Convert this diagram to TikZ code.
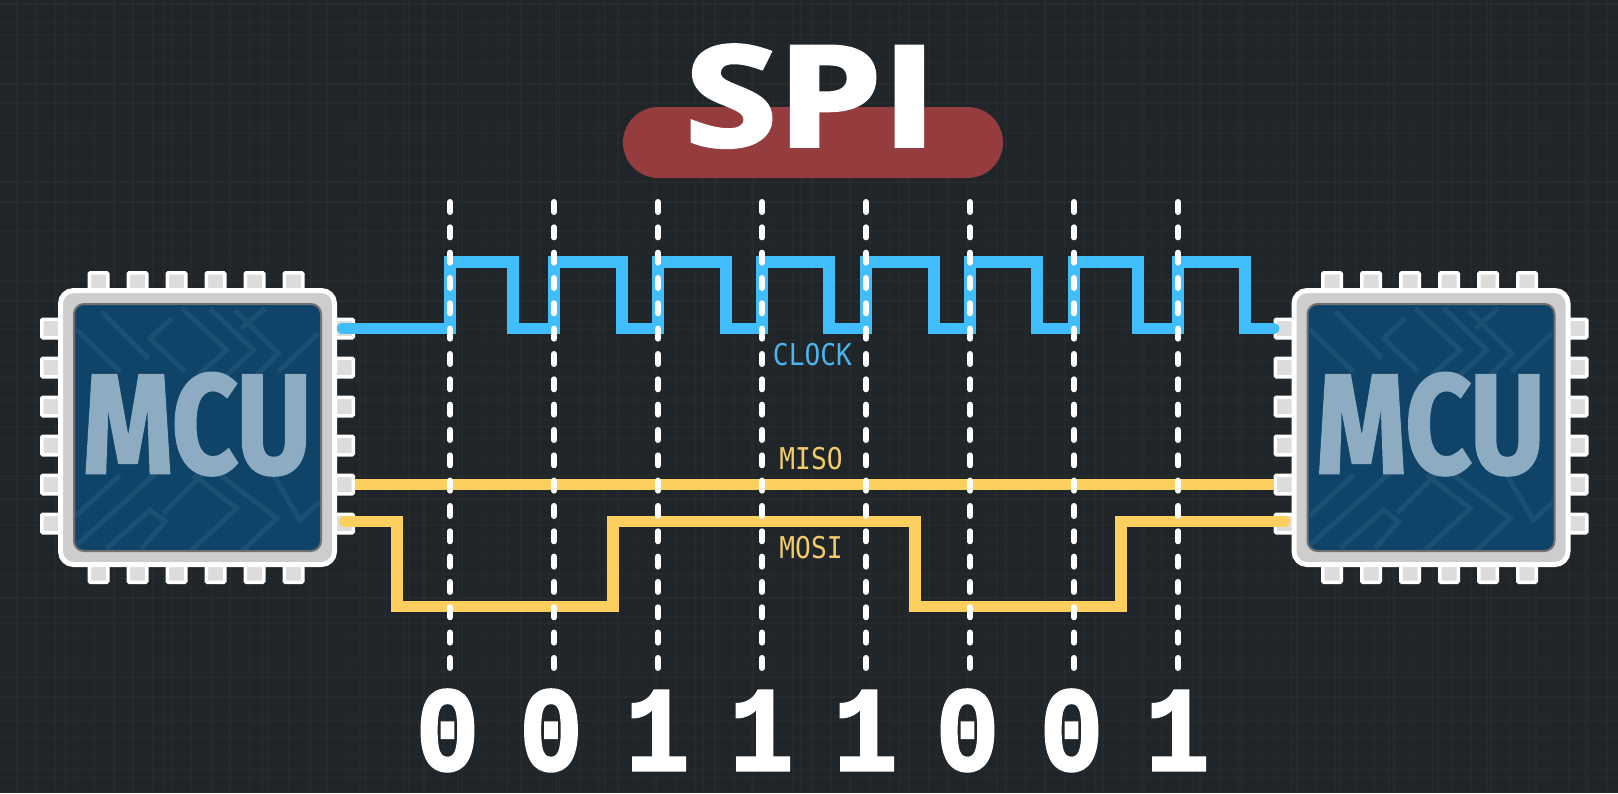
\documentclass[tikz,border=0pt]{standalone}
\usepackage{fontspec}
\usepackage{graphicx}
\newfontfamily\titlef[BoldFeatures={FakeBold=2.5}]{Open Sans}
\newfontfamily\mcuf[BoldFeatures={FakeBold=2}]{Fira Sans}
\newfontfamily\monof{DejaVu Sans Mono}
\newfontfamily\digitf[BoldFeatures={FakeBold=2.5}]{Liberation Mono}
\definecolor{bgc}{HTML}{1F2528}
\definecolor{gridc}{HTML}{2A3033}
\definecolor{gridb}{HTML}{2C2D2A}
\definecolor{pillc}{HTML}{953C3F}
\definecolor{pinc}{HTML}{DCDCDC}
\definecolor{chipc}{HTML}{CDCDCD}
\definecolor{bluec}{HTML}{0F4468}
\definecolor{tracec}{HTML}{1B5073}
\definecolor{mcutext}{HTML}{8DABC1}
\definecolor{clockc}{HTML}{40BDFB}
\definecolor{dataC}{HTML}{FDCF5F}
\definecolor{clocklab}{HTML}{4AB4EC}
\definecolor{datalab}{HTML}{F3CB68}
\tikzset{
  pinv/.style={draw=white,fill=pinc,line width=3.5pt,minimum width=18.5pt,minimum height=28.5pt,inner sep=0pt,rounded corners=1pt},
  pinh/.style={draw=white,fill=pinc,line width=3.5pt,minimum width=28.5pt,minimum height=18.5pt,inner sep=0pt,rounded corners=1pt},
  chipouter/.style={draw=white,fill=chipc,line width=5pt,minimum width=274pt,minimum height=274pt,rounded corners=13pt,inner sep=0pt},
  chipinner/.style={draw=black!45!chipc,fill=bluec,line width=2pt,minimum width=247pt,minimum height=247pt,rounded corners=10pt,inner sep=0pt},
  trace/.style={draw=tracec,line width=5pt},
  mcutxt/.style={anchor=base,inner sep=0pt,text=mcutext,font=\mcuf\bfseries},
  wireclk/.style={draw=clockc,line width=11.5pt,line join=miter},
  wiredata/.style={draw=dataC,line width=11.5pt,line join=miter},
  tick/.style={draw=white,line width=6pt,line cap=round,dash pattern=on 10pt off 15.33pt},
  biglab/.style={anchor=base,inner sep=0pt,text=white},
  sig/.style={anchor=base,inner sep=0pt,font=\monof\fontsize{30}{30}\selectfont},
}
\newcommand{\mcuchip}[2]{%
  \foreach \k [count=\n] in {-97.5,-58.5,-19.5,19.5,58.5,97.5}{
    \node[pinv] (#1t\n) at (#2-1.5+\k,287) {};
    \node[pinv] (#1b\n) at (#2-1.5+\k,568) {};
    \node[pinh] (#1l\n) at (#2-141.5,426+\k) {};
    \node[pinh] (#1r\n) at (#2+141.5,426+\k) {};
  }
  \node[chipouter] (#1chip) at (#2,427.5) {};
  \node[chipinner] (#1core) at (#2,427.5) {};
  \begin{scope}
    \clip[rounded corners=9pt] (#2-122.5,305) rectangle (#2+122.5,550);
    \begin{scope}[shift={(#2-127.5,300)},x=0.3333pt,y=-0.3333pt]
      \draw[trace] (15,85)--(150,215);
      \draw[trace] (95,35)--(235,175);
      \draw[trace] (305,55)--(240,115)--(345,215);
      \draw[trace] (335,25)--(470,150)--(385,225);
      \draw[trace] (420,25)--(550,150)--(470,225);
      \draw[trace] (495,30)--(625,160)--(560,225);
      \draw[trace] (585,25)--(515,85);
      \draw[trace] (745,100)--(625,215);
      \draw[trace] (15,650)--(150,525);
      \draw[trace] (20,735)--(280,500);
      \draw[trace] (110,745)--(240,630)--(285,665)--(215,745);
      \draw[trace] (370,525)--(500,625)--(360,755);
      \draw[trace] (450,525)--(620,655)--(515,755);
      \draw[trace] (610,525)--(690,660)--(750,605);
      \draw[trace] (280,640)--(400,520);
    \end{scope}
  \end{scope}
  \node[mcutxt] (#1label) at (#2-0.5,473) {\resizebox{228pt}{100pt}{MCU}};
}
\begin{document}
\begin{tikzpicture}[x=1pt,y=-1pt]
\useasboundingbox (0,0) rectangle (1618,793);
\fill[bgc] (0,0) rectangle (1618,793);
\foreach \i in {0,...,83}{\draw[gridc,line width=1.2pt,opacity=.5] ({16.5+19.4*\i},0)--({16.5+19.4*\i},793);}
\foreach \i in {0,...,40}{\draw[gridc,line width=1.2pt,opacity=.5] (0,{4+19.8*\i})--(1618,{4+19.8*\i});}
\foreach \i in {0,...,33}{\draw[gridb,line width=1.2pt,opacity=.6] ({17+49*\i},0)--({17+49*\i},793);}
\foreach \i in {0,...,16}{\draw[gridb,line width=1.2pt,opacity=.6] (0,{35+49*\i})--(1618,{35+49*\i});}

\mcuchip{L}{197.5}
\mcuchip{R}{1431}

% title
\node[fill=pillc,rounded corners=35.5pt,minimum width=380pt,minimum height=71pt,inner sep=0pt] (pill) at (813,142.5) {};
\node[biglab,font=\titlef\bfseries] (title) at (811,146) {\resizebox{252pt}{101pt}{SPI}};

% wires
\draw[wiredata] (Lr5.east) -- (Rl5.west);
\draw[wireclk,line cap=round] ([xshift=3.5pt]Lr1.center) -- (450,328.5) -- (450,262) -- (513,262) -- (513,328.5)
  -- (554,328.5) -- (554,262) -- (622,262) -- (622,328.5)
  -- (658,328.5) -- (658,262) -- (726,262) -- (726,328.5)
  -- (762,328.5) -- (762,262) -- (829,262) -- (829,328.5)
  -- (866,328.5) -- (866,262) -- (934,262) -- (934,328.5)
  -- (970,328.5) -- (970,262) -- (1037,262) -- (1037,328.5)
  -- (1074,328.5) -- (1074,262) -- (1138,262) -- (1138,328.5)
  -- (1178,328.5) -- (1178,262) -- (1245,262) -- (1245,328.5) -- (Rl1.west);
\draw[wiredata,line cap=round] ([xshift=6pt,yshift=2pt]Lr6.center) -- (397,521.5) -- (397,606.5) -- (613,606.5) -- (613,521.5)
  -- (915,521.5) -- (915,606.5) -- (1121,606.5) -- (1121,521.5) -- ([xshift=-5pt,yshift=2pt]Rl6.center);

% clock ticks
\foreach \x [count=\n] in {450,554,658,762,866,970,1074,1178}{
  \coordinate (tt\n) at (\x,202);
  \coordinate (tb\n) at (\x,668);
  \draw[tick] (tt\n) -- (tb\n);
}

% signal labels
\node[sig,text=clocklab] (clk) at (812.5,365) {\scalebox{0.875}[1]{CLOCK}};
\node[sig,text=datalab] (miso) at (811,469) {\scalebox{0.875}[1]{MISO}};
\node[sig,text=datalab] (mosi) at (811,558) {\scalebox{0.875}[1]{MOSI}};

% bits
\foreach \x/\b [count=\n] in {447.5/0,551/0,657.5/1,761.5/1,865.5/1,967.5/0,1071.5/0,1177.5/1}{
  \node[biglab,font=\digitf\bfseries\fontsize{120}{120}\selectfont] (bit\n) at (\x,770) {\scalebox{0.88}[1]{\b}};
}
\end{tikzpicture}
\end{document}
